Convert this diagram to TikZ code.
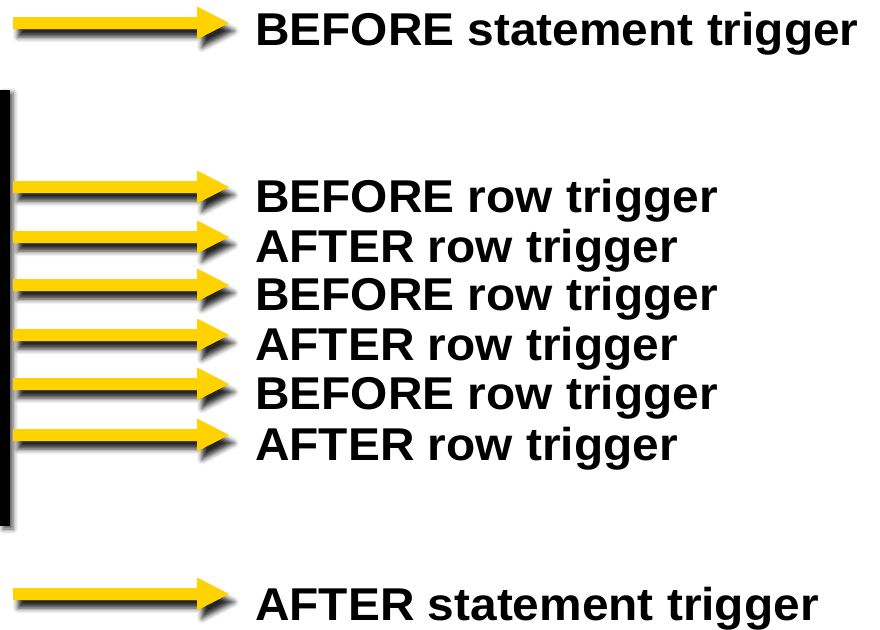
\documentclass[tikz,border=0pt]{standalone}
\usepackage{fontspec}
\setmainfont{Liberation Sans}
\newfontfamily\lblfont[FakeStretch=1.04]{Liberation Sans}
\usetikzlibrary{shadows.blur}
\definecolor{arrowyellow}{HTML}{FFD200}
\tikzset{
  yarrow/.style={fill=arrowyellow, draw=none,
    blur shadow={shadow xshift=5pt, shadow yshift=-8pt, shadow blur radius=5pt, shadow opacity=85}},
  lbl/.style={anchor=base west, inner sep=0pt, font=\lblfont\fontsize{46}{46}\selectfont\bfseries},
}
\newcommand{\trigarrow}[2]{%
  \coordinate (#1) at (13,#2);
  \path[yarrow, shift={(#1)}] (0,-6) -- (184,-6) -- (184,-16.5) -- (216,0) -- (184,16.5) -- (184,6) -- (0,6) -- cycle;
}
\begin{document}
\begin{tikzpicture}[x=1pt,y=-1pt]
\useasboundingbox (0,0) rectangle (880,629);
% black bar
\path[fill=black, blur shadow={shadow xshift=3pt, shadow yshift=-3pt, shadow blur radius=5pt, shadow opacity=70}]
  (0,90) rectangle (10,526);
\trigarrow{a0}{23}
\trigarrow{a1}{187}
\trigarrow{a2}{237}
\trigarrow{a3}{285}
\trigarrow{a4}{335}
\trigarrow{a5}{384}
\trigarrow{a6}{435}
\trigarrow{a7}{594}
\node[lbl] (t0) at (255,45) {BEFORE statement trigger};
\node[lbl] (t1) at (255,212) {BEFORE row trigger};
\node[lbl] (t2) at (255,262) {AFTER row trigger};
\node[lbl] (t3) at (255,310) {BEFORE row trigger};
\node[lbl] (t4) at (255,360) {AFTER row trigger};
\node[lbl] (t5) at (255,409) {BEFORE row trigger};
\node[lbl] (t6) at (255,460) {AFTER row trigger};
\node[lbl] (t7) at (255,620) {AFTER statement trigger};
\end{tikzpicture}
\end{document}
